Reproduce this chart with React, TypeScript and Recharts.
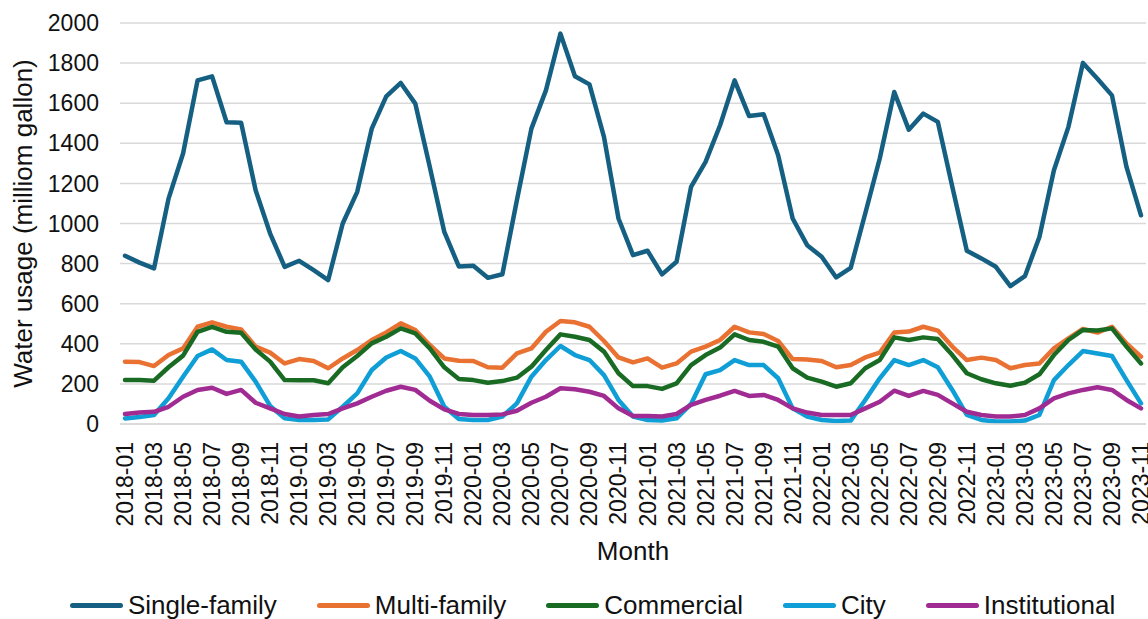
import React from 'react';
import { LineChart, Line, XAxis, YAxis, CartesianGrid, Legend } from 'recharts';

const years = [2018, 2019, 2020, 2021, 2022, 2023];
const months: string[] = [];
years.forEach((yr) => {
  for (let m = 1; m <= 12; m++) {
    if (yr === 2023 && m > 11) break;
    months.push(`${yr}-${String(m).padStart(2, '0')}`);
  }
});

const singleFamily = [
  839, 805, 776, 1124, 1349, 1714, 1734, 1505, 1503, 1166, 950, 784,
  814, 767, 718, 1000, 1158, 1473, 1634, 1701, 1598, 1282, 958, 786,
  789, 729, 747, 1116, 1473, 1664, 1947, 1734, 1694, 1432, 1025, 842,
  864, 746, 809, 1183, 1307, 1490, 1714, 1536, 1545, 1340, 1025, 892,
  834, 731, 779, 1050, 1324, 1656, 1468, 1548, 1507, 1183, 864, 826,
  784, 688, 737, 933, 1266, 1482, 1801, 1722, 1639, 1282, 1041,
];
const multiFamily = [
  311, 309, 289, 344, 377, 485, 507, 485, 472, 386, 356, 302,
  324, 314, 278, 327, 369, 419, 457, 502, 469, 394, 327, 315,
  314, 283, 281, 352, 377, 460, 514, 507, 485, 414, 332, 307,
  327, 281, 302, 361, 386, 419, 485, 457, 449, 414, 324, 322,
  314, 283, 294, 332, 356, 456, 461, 485, 466, 386, 319, 331,
  319, 278, 294, 302, 377, 427, 474, 456, 485, 402, 336,
];
const commercial = [
  219, 219, 216, 283, 341, 460, 485, 460, 455, 372, 311, 219,
  218, 218, 203, 283, 339, 402, 435, 477, 452, 377, 283, 225,
  219, 206, 214, 231, 286, 369, 447, 435, 419, 361, 253, 189,
  189, 175, 203, 294, 344, 381, 447, 419, 410, 386, 278, 231,
  211, 186, 203, 278, 319, 432, 419, 432, 424, 344, 253, 223,
  203, 191, 206, 248, 344, 419, 469, 466, 477, 386, 302,
];
const city = [
  28, 35, 45, 128, 236, 339, 372, 319, 311, 211, 90, 28,
  20, 20, 23, 86, 153, 269, 332, 364, 327, 236, 86, 25,
  20, 20, 37, 103, 236, 319, 389, 344, 319, 244, 120, 37,
  20, 17, 28, 100, 248, 269, 319, 294, 294, 228, 78, 37,
  20, 15, 17, 120, 228, 319, 294, 319, 283, 170, 45, 20,
  13, 12, 17, 45, 219, 294, 364, 352, 339, 219, 103,
];
const institutional = [
  50, 57, 61, 86, 136, 170, 181, 150, 170, 106, 78, 50,
  37, 45, 50, 78, 103, 136, 166, 186, 170, 116, 73, 50,
  45, 45, 48, 66, 106, 136, 178, 173, 161, 140, 78, 40,
  40, 37, 50, 95, 120, 141, 165, 140, 145, 120, 78, 57,
  45, 45, 45, 78, 111, 166, 140, 165, 145, 103, 61, 45,
  37, 37, 45, 78, 128, 153, 170, 183, 170, 120, 78,
];

const yTicks = [0, 200, 400, 600, 800, 1000, 1200, 1400, 1600, 1800, 2000];

const series = [
  { key: 'single', name: 'Single-family', color: '#156082' },
  { key: 'multi', name: 'Multi-family', color: '#E97132' },
  { key: 'commercial', name: 'Commercial', color: '#196B24' },
  { key: 'city', name: 'City', color: '#0F9ED5' },
  { key: 'institutional', name: 'Institutional', color: '#A02B93' },
];

const data = months.map((m, i) => ({
  month: m,
  single: singleFamily[i],
  multi: multiFamily[i],
  commercial: commercial[i],
  city: city[i],
  institutional: institutional[i],
}));

const FONT = '"Liberation Sans", Arial, sans-serif';

const MonthTick = ({ x, y, payload }: any) => (
  <text
    transform={`translate(${x},${y + 18}) rotate(-90)`}
    textAnchor="end"
    dominantBaseline="central"
    fontSize={23}
    fontFamily={FONT}
    fill="#111"
  >
    {payload.value}
  </text>
);

const YTitle = ({ viewBox }: any) => (
  <text
    transform={`translate(23,${viewBox.y + viewBox.height / 2}) rotate(-90)`}
    textAnchor="middle"
    dominantBaseline="central"
    fontSize={26}
    fontFamily={FONT}
    fill="#111"
  >
    Water usage (milliom gallon)
  </text>
);

const LegendBox = () => (
  <div
    style={{
      display: 'flex',
      alignItems: 'center',
      height: 28,
      paddingLeft: 70,
      fontFamily: FONT,
      fontSize: 26,
      color: '#111',
      whiteSpace: 'nowrap',
      width: 1148,
      boxSizing: 'border-box',
    }}
  >
    {series.map((s) => (
      <div key={s.key} style={{ display: 'flex', alignItems: 'center', marginRight: 40, flexShrink: 0 }}>
        <span style={{ display: 'inline-block', width: 53, height: 5, borderRadius: 3, background: s.color, marginRight: 5 }} />
        <span>{s.name}</span>
      </div>
    ))}
  </div>
);

const App = () => {
  return (
    <div style={{ position: 'absolute', left: 0, top: 0, background: '#fff' }}>
      <LineChart
        width={1148}
        height={619}
        data={data}
        margin={{ top: 23, right: 2, bottom: 0, left: 10 }}
        style={{ fontFamily: FONT }}
      >
        <CartesianGrid vertical={false} stroke="#D9D9D9" strokeWidth={1.5} />
        <XAxis
          dataKey="month"
          interval={1}
          tick={<MonthTick />}
          tickLine={false}
          tickSize={0}
          tickMargin={0}
          axisLine={{ stroke: '#D9D9D9', strokeWidth: 1.5 }}
          padding={{ left: 5, right: 5 }}
          height={167}
          label={{ value: 'Month', position: 'insideBottom', offset: 31, fontSize: 26, fill: '#111', fontFamily: FONT }}
        />
        <YAxis
          domain={[0, 2000]}
          ticks={yTicks}
          width={110}
          tickLine={false}
          axisLine={false}
          tickSize={0}
          tickMargin={21}
          tick={{ fontSize: 23, fill: '#111', fontFamily: FONT }}
          label={<YTitle />}
        />
        <Legend
          verticalAlign="bottom"
          height={28}
          content={<LegendBox />}
          wrapperStyle={{ left: 0, width: 1148 }}
        />
        {series.map((s) => (
          <Line
            key={s.key}
            type="linear"
            dataKey={s.key}
            name={s.name}
            stroke={s.color}
            strokeWidth={4.5}
            strokeLinejoin="round"
            strokeLinecap="round"
            dot={false}
            activeDot={false}
            isAnimationActive={false}
          />
        ))}
      </LineChart>
    </div>
  );
};

export default App;
